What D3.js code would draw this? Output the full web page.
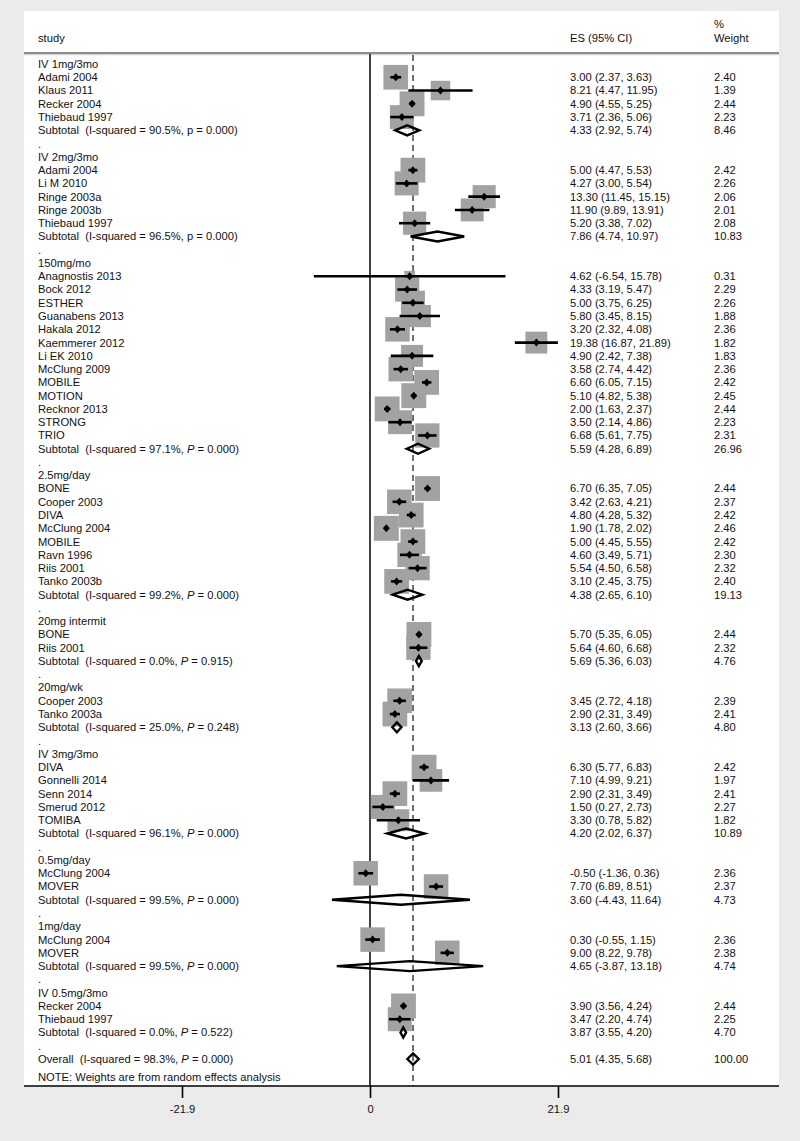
<!DOCTYPE html>
<html>
<head>
<meta charset="utf-8">
<script src="https://cdn.jsdelivr.net/npm/d3@7"></script>
<style>
  html, body { margin: 0; padding: 0; background: #ebebeb; }
  svg { display: block; }
  text { font-family: "Liberation Sans", Arial, Helvetica, sans-serif; font-size: 11.2px; fill: #111; }
</style>
</head>
<body>
<svg id="chart" width="800" height="1141"></svg>
<script>
// ---- data ----
// row kinds: g = group heading, s = study, t = subtotal, b = blank ".", o = overall
const rowKinds = ["g","s","s","s","s","t","b",
  "g","s","s","s","s","s","t","b",
  "g","s","s","s","s","s","s","s","s","s","s","s","s","s","t","b",
  "g","s","s","s","s","s","s","s","s","t","b",
  "g","s","s","t","b",
  "g","s","s","t","b",
  "g","s","s","s","s","s","t","b",
  "g","s","s","t","b",
  "g","s","s","t","b",
  "g","s","s","t","b",
  "o"];
const rowLabels = ["IV 1mg/3mo","Adami 2004","Klaus 2011","Recker 2004","Thiebaud 1997","Subtotal  (I-squared = 90.5%, p = 0.000)",".",
  "IV 2mg/3mo","Adami 2004","Li M 2010","Ringe 2003a","Ringe 2003b","Thiebaud 1997","Subtotal  (I-squared = 96.5%, p = 0.000)",".",
  "150mg/mo","Anagnostis 2013","Bock 2012","ESTHER","Guanabens 2013","Hakala 2012","Kaemmerer 2012","Li EK 2010","McClung 2009","MOBILE","MOTION","Recknor 2013","STRONG","TRIO","Subtotal  (I-squared = 97.1%, P = 0.000)",".",
  "2.5mg/day","BONE","Cooper 2003","DIVA","McClung 2004","MOBILE","Ravn 1996","Riis 2001","Tanko 2003b","Subtotal  (I-squared = 99.2%, P = 0.000)",".",
  "20mg intermit","BONE","Riis 2001","Subtotal  (I-squared = 0.0%, P = 0.915)",".",
  "20mg/wk","Cooper 2003","Tanko 2003a","Subtotal  (I-squared = 25.0%, P = 0.248)",".",
  "IV 3mg/3mo","DIVA","Gonnelli 2014","Senn 2014","Smerud 2012","TOMIBA","Subtotal  (I-squared = 96.1%, P = 0.000)",".",
  "0.5mg/day","McClung 2004","MOVER","Subtotal  (I-squared = 99.5%, P = 0.000)",".",
  "1mg/day","McClung 2004","MOVER","Subtotal  (I-squared = 99.5%, P = 0.000)",".",
  "IV 0.5mg/3mo","Recker 2004","Thiebaud 1997","Subtotal  (I-squared = 0.0%, P = 0.522)",".",
  "Overall  (I-squared = 98.3%, P = 0.000)"];
const esValues = [null,3.00,8.21,4.90,3.71,4.33,null,
  null,5.00,4.27,13.30,11.90,5.20,7.86,null,
  null,4.62,4.33,5.00,5.80,3.20,19.38,4.90,3.58,6.60,5.10,2.00,3.50,6.68,5.59,null,
  null,6.70,3.42,4.80,1.90,5.00,4.60,5.54,3.10,4.38,null,
  null,5.70,5.64,5.69,null,
  null,3.45,2.90,3.13,null,
  null,6.30,7.10,2.90,1.50,3.30,4.20,null,
  null,-0.50,7.70,3.60,null,
  null,0.30,9.00,4.65,null,
  null,3.90,3.47,3.87,null,
  5.01];
const ciLower = [null,2.37,4.47,4.55,2.36,2.92,null,
  null,4.47,3.00,11.45,9.89,3.38,4.74,null,
  null,-6.54,3.19,3.75,3.45,2.32,16.87,2.42,2.74,6.05,4.82,1.63,2.14,5.61,4.28,null,
  null,6.35,2.63,4.28,1.78,4.45,3.49,4.50,2.45,2.65,null,
  null,5.35,4.60,5.36,null,
  null,2.72,2.31,2.60,null,
  null,5.77,4.99,2.31,0.27,0.78,2.02,null,
  null,-1.36,6.89,-4.43,null,
  null,-0.55,8.22,-3.87,null,
  null,3.56,2.20,3.55,null,
  4.35];
const ciUpper = [null,3.63,11.95,5.25,5.06,5.74,null,
  null,5.53,5.54,15.15,13.91,7.02,10.97,null,
  null,15.78,5.47,6.25,8.15,4.08,21.89,7.38,4.42,7.15,5.38,2.37,4.86,7.75,6.89,null,
  null,7.05,4.21,5.32,2.02,5.55,5.71,6.58,3.75,6.10,null,
  null,6.05,6.68,6.03,null,
  null,4.18,3.49,3.66,null,
  null,6.83,9.21,3.49,2.73,5.82,6.37,null,
  null,0.36,8.51,11.64,null,
  null,1.15,9.78,13.18,null,
  null,4.24,4.74,4.20,null,
  5.68];
const weights = [null,2.40,1.39,2.44,2.23,8.46,null,
  null,2.42,2.26,2.06,2.01,2.08,10.83,null,
  null,0.31,2.29,2.26,1.88,2.36,1.82,1.83,2.36,2.42,2.45,2.44,2.23,2.31,26.96,null,
  null,2.44,2.37,2.42,2.46,2.42,2.30,2.32,2.40,19.13,null,
  null,2.44,2.32,4.76,null,
  null,2.39,2.41,4.80,null,
  null,2.42,1.97,2.41,2.27,1.82,10.89,null,
  null,2.36,2.37,4.73,null,
  null,2.36,2.38,4.74,null,
  null,2.44,2.25,4.70,null,
  100.00];
const tickValues = [-21.9, 0, 21.9];
const tickLabels = ["-21.9", "0", "21.9"];
const headerLabels = {study: "study", es: "ES (95% CI)", pct: "%", weight: "Weight"};
const noteText = "NOTE: Weights are from random effects analysis";

// ---- layout ----
const svg = d3.select("#chart");
const panel = {x0: 24, x1: 779, y0: 11, y1: 1086};
const x = d3.scaleLinear().domain([-21.9, 21.9]).range([182, 558]);
const y = d3.scaleLinear().domain([0, rowKinds.length - 1]).range([64, 1059]);
const colStudy = 38, colES = 570, colW = 714;
const headerLineY = 53;

// white panel
svg.append("rect").attr("x", panel.x0).attr("y", panel.y0)
  .attr("width", panel.x1 - panel.x0).attr("height", panel.y1 - panel.y0)
  .attr("fill", "#fff");

// header
svg.append("text").attr("x", colStudy).attr("y", 38).attr("dy", "0.35em").text(headerLabels.study);
svg.append("text").attr("x", colES).attr("y", 38).attr("dy", "0.35em").text(headerLabels.es);
svg.append("text").attr("x", colW).attr("y", 24).attr("dy", "0.35em").text(headerLabels.pct);
svg.append("text").attr("x", colW).attr("y", 38).attr("dy", "0.35em").text(headerLabels.weight);
svg.append("line").attr("x1", panel.x0).attr("x2", panel.x1).attr("y1", headerLineY + 1.5).attr("y2", headerLineY + 1.5)
  .attr("stroke", "#d4d4d4").attr("stroke-width", 1.5);
svg.append("line").attr("x1", panel.x0).attr("x2", panel.x1).attr("y1", headerLineY).attr("y2", headerLineY)
  .attr("stroke", "#6a6a6a").attr("stroke-width", 1.4);

// reference lines
svg.append("line").attr("x1", x(0)).attr("x2", x(0)).attr("y1", headerLineY + 1).attr("y2", panel.y1)
  .attr("stroke", "#111").attr("stroke-width", 1.6);
const overallIdx = rowKinds.indexOf("o");
svg.append("line").attr("x1", x(esValues[overallIdx])).attr("x2", x(esValues[overallIdx]))
  .attr("y1", headerLineY + 2).attr("y2", panel.y1)
  .attr("stroke", "#111").attr("stroke-width", 1.2).attr("stroke-dasharray", "6,4");

const rows = rowKinds.map((k, i) => ({k, i, label: rowLabels[i], es: esValues[i], lo: ciLower[i], hi: ciUpper[i], w: weights[i]}));
const studies = rows.filter(r => r.k === "s");
const pooled = rows.filter(r => r.k === "t" || r.k === "o");
const side = w => 3 + 14 * Math.sqrt(w);

// boxes
svg.append("g").selectAll("rect").data(studies).join("rect")
  .attr("x", d => x(d.es) - side(d.w) / 2)
  .attr("y", d => y(d.i) - side(d.w) / 2)
  .attr("width", d => side(d.w))
  .attr("height", d => side(d.w))
  .attr("fill", "#a2a2a2");

// CI lines
svg.append("g").selectAll("line").data(studies).join("line")
  .attr("x1", d => x(d.lo)).attr("x2", d => x(d.hi))
  .attr("y1", d => y(d.i)).attr("y2", d => y(d.i))
  .attr("stroke", "#000").attr("stroke-width", 2.6);

// point markers (small diamonds)
svg.append("g").selectAll("path").data(studies).join("path")
  .attr("d", d => {
    const cx = x(d.es), cy = y(d.i);
    return `M${cx - 3.5},${cy}L${cx},${cy - 4}L${cx + 3.5},${cy}L${cx},${cy + 4}Z`;
  })
  .attr("fill", "#000");

// pooled diamonds
svg.append("g").selectAll("path").data(pooled).join("path")
  .attr("d", d => {
    const cy = y(d.i), h = d.k === "o" ? 5.5 : 5;
    return `M${x(d.lo)},${cy}L${x(d.es)},${cy - h}L${x(d.hi)},${cy}L${x(d.es)},${cy + h}Z`;
  })
  .attr("fill", "none").attr("stroke", "#000").attr("stroke-width", 2.4).attr("stroke-linejoin", "miter");

// label text with italic P
function writeLabel(sel, txt) {
  const m = txt.match(/^(.*), P = (.*)$/);
  if (m) {
    sel.append("tspan").text(m[1] + ", ");
    sel.append("tspan").attr("font-style", "italic").text("P");
    sel.append("tspan").text(" = " + m[2]);
  } else {
    sel.text(txt);
  }
}
const textG = svg.append("g");
rows.forEach(r => {
  const t = textG.append("text").attr("x", colStudy).attr("y", y(r.i)).attr("dy", "0.35em")
    .attr("xml:space", "preserve").style("white-space", "pre");
  writeLabel(t, r.label);
  if (r.es !== null) {
    textG.append("text").attr("x", colES).attr("y", y(r.i)).attr("dy", "0.35em")
      .text(`${r.es.toFixed(2)} (${r.lo.toFixed(2)}, ${r.hi.toFixed(2)})`);
    textG.append("text").attr("x", colW).attr("y", y(r.i)).attr("dy", "0.35em")
      .text(r.w.toFixed(2));
  }
});
textG.append("text").attr("x", colStudy).attr("y", 1077).attr("dy", "0.35em").text(noteText);

// axis
svg.append("line").attr("x1", panel.x0).attr("x2", panel.x1).attr("y1", panel.y1).attr("y2", panel.y1)
  .attr("stroke", "#000").attr("stroke-width", 1.6);
const axis = d3.axisBottom(x).tickValues(tickValues).tickSize(12).tickPadding(7)
  .tickFormat((d, i) => tickLabels[i]);
const ag = svg.append("g").attr("transform", `translate(0,${panel.y1})`).call(axis);
ag.select(".domain").remove();
ag.selectAll(".tick line").attr("stroke", "#000").attr("stroke-width", 1.6);
ag.selectAll(".tick text").attr("fill", "#111")
  .style("font-family", '"Liberation Sans", Arial, sans-serif').style("font-size", "11.2px");
</script>
</body>
</html>
